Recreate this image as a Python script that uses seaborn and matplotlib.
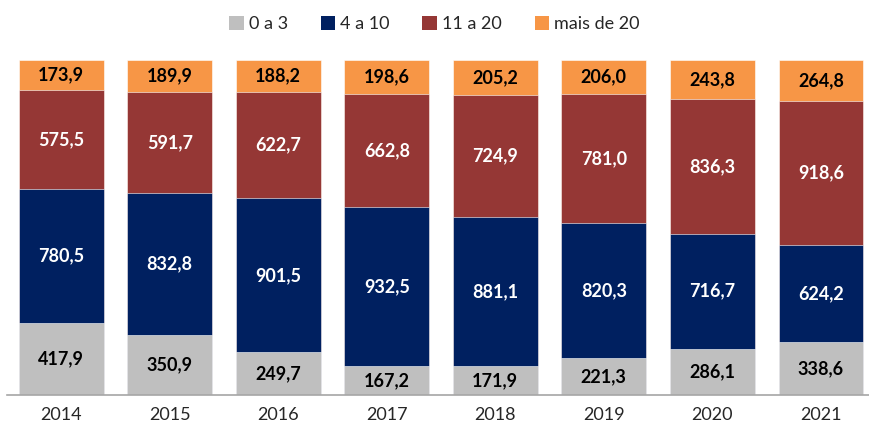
import pandas as pd
import numpy as np
import matplotlib
matplotlib.use("Agg")
import matplotlib.pyplot as plt
from matplotlib.patches import Patch
import seaborn as sns

years = ["2014", "2015", "2016", "2017", "2018", "2019", "2020", "2021"]
faixa_0_3 = [417.9, 350.9, 249.7, 167.2, 171.9, 221.3, 286.1, 338.6]
faixa_4_10 = [780.5, 832.8, 901.5, 932.5, 881.1, 820.3, 716.7, 624.2]
faixa_11_20 = [575.5, 591.7, 622.7, 662.8, 724.9, 781.0, 836.3, 918.6]
faixa_20_mais = [173.9, 189.9, 188.2, 198.6, 205.2, 206.0, 243.8, 264.8]

series = ["0 a 3", "4 a 10", "11 a 20", "mais de 20"]
colors = ["#BFBFBF", "#002060", "#953735", "#F79646"]
text_colors = ["black", "white", "white", "black"]

sns.set_theme(style="white")
plt.rcParams["font.family"] = ["Lato", "DejaVu Sans"]

values = np.array([faixa_0_3, faixa_4_10, faixa_11_20, faixa_20_mais])
pct = values / values.sum(axis=0) * 100
cum = pct.cumsum(axis=0)

fig = plt.figure(figsize=(8.69, 4.25), dpi=100)
ax = fig.add_axes([0.008, 0.071, 0.999, 0.788])

# draw cumulative bars from the top layer down so they stack
for i in range(len(series) - 1, -1, -1):
    df = pd.DataFrame({"ano": years, "valor": cum[i]})
    sns.barplot(data=df, x="ano", y="valor", color=colors[i], width=0.78,
                saturation=1, ax=ax, edgecolor="white", linewidth=0.4)

# segment labels
for i in range(len(series)):
    for j in range(len(years)):
        mid = cum[i, j] - pct[i, j] / 2
        txt = f"{values[i, j]:.1f}".replace(".", ",")
        ax.text(j, mid, txt, ha="center", va="center", fontsize=13,
                fontweight="bold", color=text_colors[i])

ax.set_xlim(-0.5, 7.5)
ax.set_ylim(0, 100)
ax.set_xlabel("")
ax.set_ylabel("")
ax.set_yticks([])
ax.tick_params(axis="x", length=0, labelsize=13, pad=9)
for s in ["top", "right", "left"]:
    ax.spines[s].set_visible(False)
ax.spines["bottom"].set_color("#A6A6A6")
ax.spines["bottom"].set_linewidth(1.2)

handles = [Patch(facecolor=c, edgecolor="none", label=s) for s, c in zip(series, colors)]
fig.legend(handles=handles, loc="upper center", bbox_to_anchor=(0.5, 1.0), ncol=4,
           frameon=False, fontsize=13, handlelength=0.8, handleheight=0.8,
           handletextpad=0.3, columnspacing=1.8)

fig.savefig("out.png", dpi=100)
